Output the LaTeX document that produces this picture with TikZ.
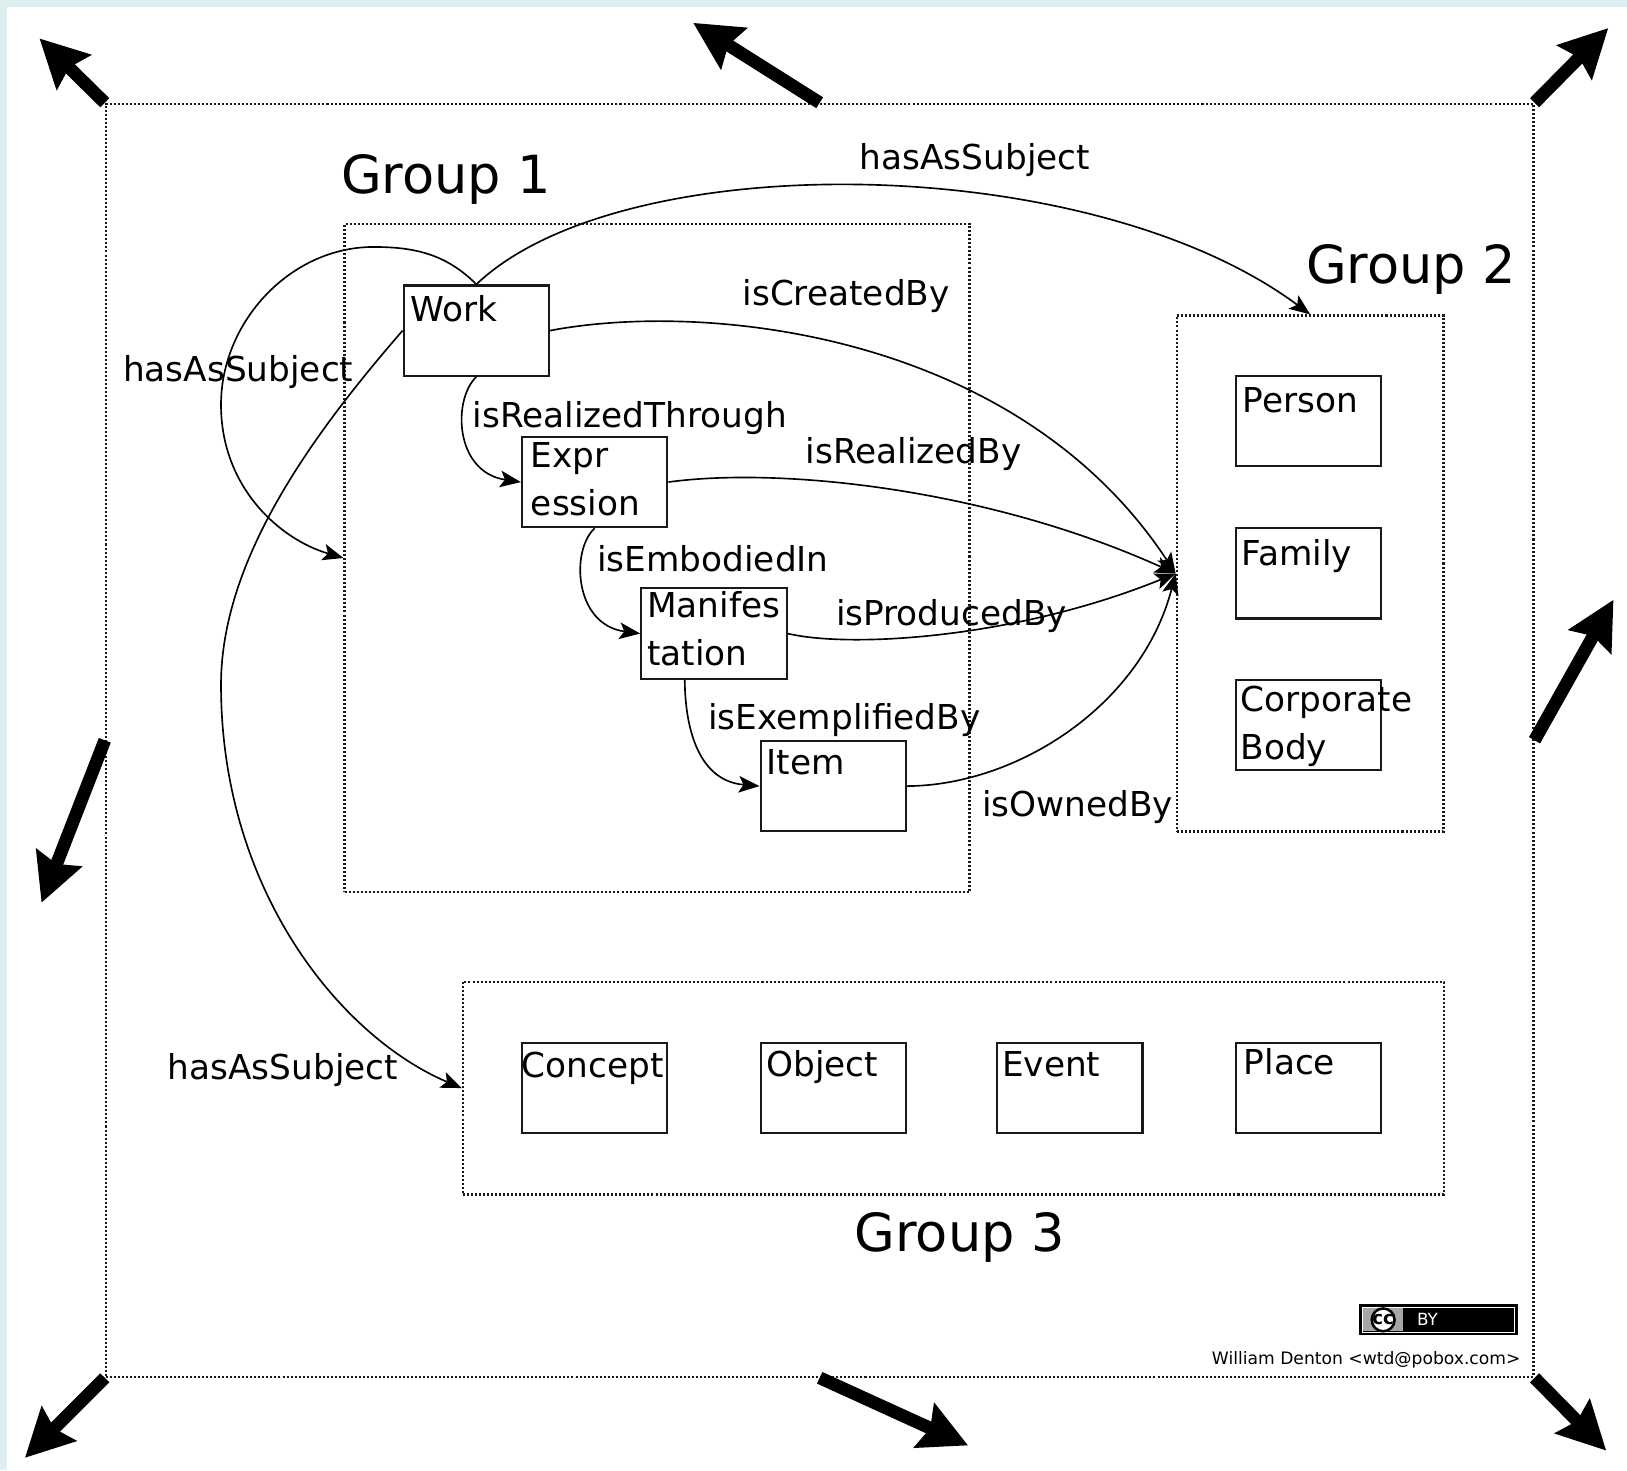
\documentclass[tikz,border=0pt]{standalone}
\usepackage{fontspec}
\setmainfont{DejaVu Sans}
\usetikzlibrary{arrows.meta}
\definecolor{bgstrip}{RGB}{222,238,241}
\begin{document}
\begin{tikzpicture}[x=0.01cm,y=0.01cm,
  lbl/.style={font=\fontsize{9.4}{11}\selectfont, inner sep=0pt, anchor=base west},
  grouptitle/.style={font=\fontsize{14.4}{17}\selectfont, inner sep=0pt, anchor=base west},
  entity/.style={draw=black!90, line width=0.6pt, minimum width=1.40cm, minimum height=0.87cm, inner sep=0pt, anchor=north west},
  etext/.style={font=\fontsize{9.4}{13.1}\selectfont, inner sep=0pt, anchor=base west, align=left},
  groupbox/.style={draw=black!90, line width=0.6pt, dash pattern=on 0.55pt off 0.55pt, inner sep=0pt, anchor=north west},
  conn/.style={line width=0.45pt, -{Stealth[length=0.2cm,width=0.16cm,inset=0.045cm]}},
  bigarrow/.style={line width=3.5pt, -{Stealth[length=0.46cm,width=0.46cm,inset=0.06cm]}},
]
\useasboundingbox (0,0) rectangle (1568,-1417);
\fill[bgstrip] (0,0) rectangle (1568,-1417);
\fill[white] (7,-7) rectangle (1568,-1417);

% group frames
\node[groupbox, minimum width=13.75cm, minimum height=12.26cm] (outer) at (101,-99) {};
\node[groupbox, minimum width=6.02cm, minimum height=6.43cm] (g1) at (331,-215) {};
\node[groupbox, minimum width=2.57cm, minimum height=4.97cm] (g2) at (1133,-303) {};
\node[groupbox, minimum width=9.45cm, minimum height=2.05cm] (g3) at (445,-945) {};

\node[grouptitle] (t1) at (328,-186) {Group 1};
\node[grouptitle] (t2) at (1258,-273) {Group 2};
\node[grouptitle] (t3) at (823,-1206) {Group 3};

% entities
\node[entity] (work) at (388,-274) {};
\node[entity] (expr) at (502,-420) {};
\node[entity] (manif) at (617,-566) {};
\node[entity] (item) at (732,-713) {};
\node[entity] (person) at (1190,-361) {};
\node[entity] (family) at (1190,-508) {};
\node[entity] (corp) at (1190,-654) {};
\node[entity] (concept) at (502,-1004) {};
\node[entity] (object) at (732,-1004) {};
\node[entity] (event) at (960,-1004) {};
\node[entity] (place) at (1190,-1004) {};

% (two-line texts are anchored at the baseline of their last line)
\node[etext] (worktx) at ([shift={(7,-36)}]work.north west) {Work};
\node[etext] (exprtx) at ([shift={(9,-77)}]expr.north west) {Expr\\ession};
\node[etext] (maniftx) at ([shift={(6,-75)}]manif.north west) {Manifes\\tation};
\node[etext] (itemtx) at ([shift={(6,-33)}]item.north west) {Item};
\node[etext] (persontx) at ([shift={(7,-37)}]person.north west) {Person};
\node[etext] (familytx) at ([shift={(6,-37)}]family.north west) {Family};
\node[etext] (corptx) at ([shift={(5,-78)}]corp.north west) {Corporate\\Body};
\node[etext] (concepttx) at ([shift={(0,-34)}]concept.north west) {Concept};
\node[etext] (objecttx) at ([shift={(6,-33)}]object.north west) {Object};
\node[etext] (eventtx) at ([shift={(5,-33)}]event.north west) {Event};
\node[etext] (placetx) at ([shift={(8,-32)}]place.north west) {Place};

% connectors within group 1
\draw[conn] (work.south) .. controls (436,-385) and (438,-455) .. (expr.west);
\draw[conn] (expr.south) .. controls (550,-530) and (553,-602) .. (manif.west);
\draw[conn] ([xshift=-8]manif.south) .. controls (660,-685) and (666,-752) .. (item.west);

% to group 2
\draw[conn] (work.east) .. controls (680,-290) and (980,-320) .. (g2.west);
\draw[conn] (expr.east) .. controls (750,-450) and (950,-470) .. (g2.west);
\draw[conn] (manif.east) .. controls (820,-625) and (980,-615) .. (g2.west);
\draw[conn] (item.east) .. controls (980,-757) and (1100,-680) .. (g2.west);

% hasAsSubject
\draw[conn] (work.north) .. controls (600,-140) and (1050,-145) .. (g2.north);
\draw[conn] (work.north) .. controls (430,-245) and (400,-238) .. (360,-238)
  .. controls (280,-238) and (213,-310) .. (213,-390)
  .. controls (213,-470) and (270,-520) .. (g1.west);
\draw[conn] (work.west) .. controls (300,-420) and (213,-540) .. (213,-660)
  .. controls (213,-860) and (330,-1000) .. (g3.west);

% labels
\node[lbl] (lhasTop) at (828,-163) {hasAsSubject};
\node[lbl] (lhasLeft) at (118,-368) {hasAsSubject};
\node[lbl] (lhasBot) at (161,-1040) {hasAsSubject};
\node[lbl] (lcreated) at (715,-294) {isCreatedBy};
\node[lbl] (lrealBy) at (776,-447) {isRealizedBy};
\node[lbl] (lrealTh) at (455,-412) {isRealizedThrough};
\node[lbl] (lemb) at (575,-551) {isEmbodiedIn};
\node[lbl] (lprod) at (805,-603) {isProducedBy};
\node[lbl] (lexem) at (682,-703) {isExemplifiedBy};
\node[lbl] (lowned) at (946,-787) {isOwnedBy};

% big resize arrows
\coordinate (aTL) at (38,-37);
\coordinate (aTM) at (668,-22);
\coordinate (aTR) at (1550,-27);
\coordinate (aR) at (1555,-578);
\coordinate (aL) at (40,-870);
\coordinate (aBL) at (24,-1405);
\coordinate (aBM) at (933,-1393);
\coordinate (aBR) at (1548,-1398);
\draw[bigarrow] (outer.north west) -- (aTL);
\draw[bigarrow] (outer.north) -- (aTM);
\draw[bigarrow] (outer.north east) -- (aTR);
\draw[bigarrow] (outer.east) -- (aR);
\draw[bigarrow] (outer.west) -- (aL);
\draw[bigarrow] (outer.south west) -- (aBL);
\draw[bigarrow] (outer.south) -- (aBM);
\draw[bigarrow] (outer.south east) -- (aBR);

% licence badge and credit
\fill[black] (1310,-1257) rectangle (1463,-1287);
\draw[white, line width=0.3pt] (1313,-1260) rectangle (1460,-1284);
\fill[black!35] (1314,-1261) rectangle (1352,-1283);
\draw[fill=white, line width=0.7pt] (1333,-1272) circle (11);
\node[font=\bfseries\fontsize{5}{6}\selectfont, inner sep=0pt] (cc) at (1333,-1272) {cc};
\node[font=\fontsize{4.6}{5}\selectfont, text=white, inner sep=0pt, anchor=west] (by) at (1365,-1272) {BY};
\node[font=\fontsize{4.7}{5}\selectfont, inner sep=0pt, anchor=base east] (credit) at (1466,-1315) {William Denton <wtd@pobox.com>};
\end{tikzpicture}
\end{document}
